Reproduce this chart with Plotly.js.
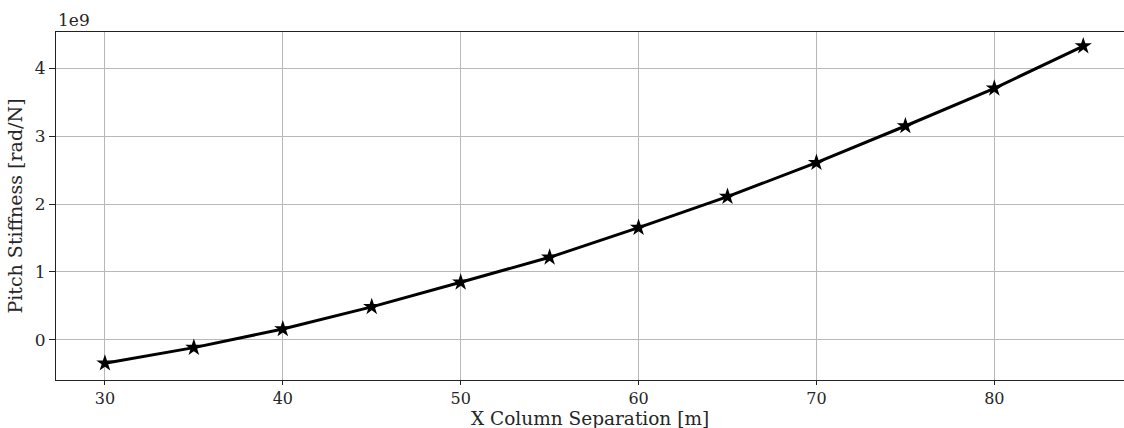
<!DOCTYPE html>
<html>
<head>
<meta charset="utf-8">
<script src="https://cdn.plot.ly/plotly-3.0.1.min.js"></script>
<style>
  html, body { margin: 0; padding: 0; background: #fff; }
  #chart { width: 1124px; height: 428px; }
</style>
</head>
<body>
<div id="chart"></div>
<script>
// Column separation along X [m]
const separation = [30, 35, 40, 45, 50, 55, 60, 65, 70, 75, 80, 85];
// Pitch stiffness [rad/N], in units of 1e9
const stiffness = [-0.346, -0.116, 0.159, 0.485, 0.848, 1.216, 1.653, 2.110, 2.611, 3.152, 3.708, 4.331];
const scale = 1e9;
const yTickVals = [0, 1, 2, 3, 4];
const yTickText = ['0', '1', '2', '3', '4'];
const xTickVals = [30, 40, 50, 60, 70, 80];

const font = 'DejaVu Serif, serif';
const ink = '#262626';
const tickSize = 17;
const titleSize = 19;

const W = 1124, H = 428;
const margin = { l: 56, r: 0, t: 32, b: 48, pad: 0 };
const plotH = H - margin.t - margin.b;

const trace = {
  x: separation,
  y: stiffness.map(v => v * scale),
  type: 'scatter',
  mode: 'lines+markers',
  line: { color: '#000', width: 3 },
  marker: { symbol: 'star', size: 13, color: '#000' },
  hoverinfo: 'x+y'
};

const layout = {
  width: W,
  height: H,
  margin: margin,
  paper_bgcolor: '#fff',
  plot_bgcolor: '#fff',
  showlegend: false,
  font: { family: font, size: tickSize, color: ink },
  xaxis: {
    range: [27.25, 87.29],
    tickvals: xTickVals,
    ticks: 'outside', ticklen: 4, tickwidth: 1, tickcolor: '#222',
    showline: true, linecolor: '#222', linewidth: 1, mirror: true,
    showgrid: true, gridcolor: '#b8b8b8', gridwidth: 1,
    zeroline: false,
    tickfont: { family: font, size: 16, color: ink }
  },
  yaxis: {
    range: [-0.593 * scale, 4.538 * scale],
    tickvals: yTickVals.map(v => v * scale),
    ticktext: yTickText,
    ticks: 'outside', ticklen: 6, tickwidth: 1, tickcolor: '#222',
    showline: true, linecolor: '#222', linewidth: 1,
    showgrid: true, gridcolor: '#b8b8b8', gridwidth: 1,
    zeroline: false,
    tickfont: { family: font, size: tickSize, color: ink },
    title: { text: 'Pitch Stiffness [rad/N]', font: { family: font, size: titleSize, color: ink }, standoff: 7 }
  },
  annotations: [
    {
      // axis offset label
      text: '1e9',
      xref: 'paper', yref: 'paper',
      x: 0, y: 1, xanchor: 'left', yanchor: 'bottom',
      showarrow: false,
      font: { family: font, size: tickSize, color: ink }
    },
    {
      // x-axis title, set just below the tick labels
      text: 'X Column Separation [m]',
      xref: 'paper', yref: 'paper',
      x: 0.5, y: -margin.b / plotH, xanchor: 'center', yanchor: 'bottom',
      yshift: -2,
      borderpad: 0,
      showarrow: false,
      font: { family: font, size: 18.5, color: ink }
    }
  ]
};

Plotly.newPlot('chart', [trace], layout, { staticPlot: true, displayModeBar: false });
</script>
</body>
</html>
